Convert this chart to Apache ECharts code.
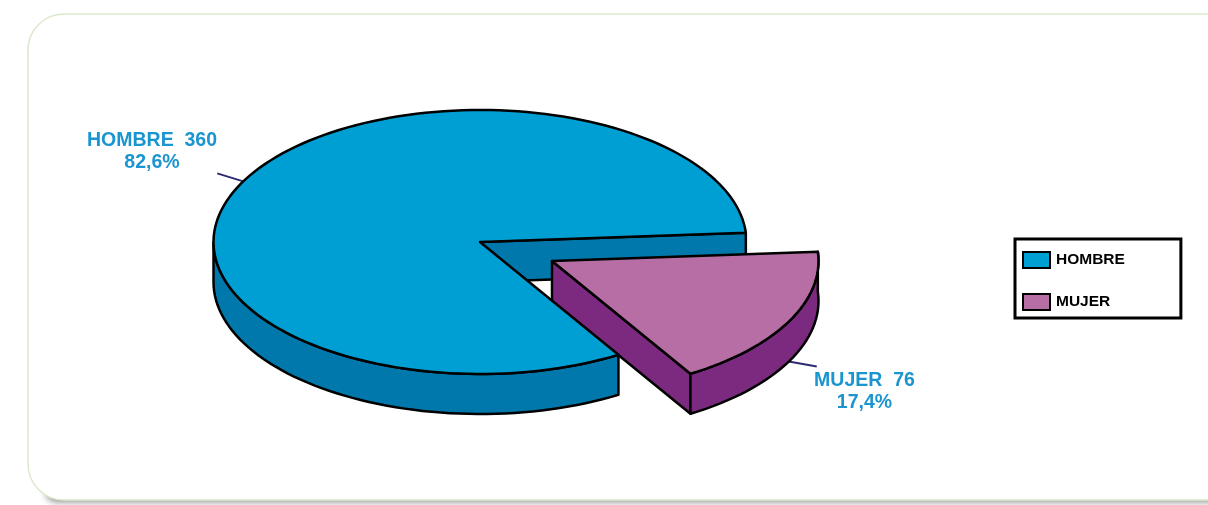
<!DOCTYPE html>
<html><head><meta charset="utf-8">
<style>html,body{margin:0;padding:0;background:#fff}#c{width:1208px;height:505px}</style>
<script src="https://cdn.jsdelivr.net/npm/echarts@6/dist/echarts.min.js"></script>
</head><body><div id="c"></div>
<script>
// --- data ---
const categories = ['HOMBRE', 'MUJER'];
const values = [360, 76];
// --- drawing style ---
const topColors = ['#009FD3', '#B76EA5'];
const wallColors = ['#0078AC', '#7B2A7F'];
const centers = [[480, 242], [552, 261]];
const RX = 266.5, RY = 132, DEPTH = 40, START_DEG = 58.7;
const leaderEnds = [[-26, -8], [28, 5]];
const labelPos = [[152, 141], [864.5, 381]];
const INK = '#000', LW = 2.5;

const total = values.reduce((a, b) => a + b, 0);
const spans = values.map(v => v / total * 360);
const starts = spans.map((_, i) => START_DEG + spans.slice(0, i).reduce((a, b) => a + b, 0));

function rim(c, deg, dy) {
  const t = deg * Math.PI / 180;
  return [c[0] + RX * Math.cos(t), c[1] + RY * Math.sin(t) + (dy || 0)];
}
function arc(c, a0, a1, dy) {
  const n = Math.max(2, Math.ceil(Math.abs(a1 - a0) / 2)), out = [];
  for (let i = 0; i <= n; i++) out.push(rim(c, a0 + (a1 - a0) * i / n, dy));
  return out;
}
function renderSlice(i) {
  const c = centers[i], a0 = starts[i], a1 = a0 + spans[i], mid = (a0 + a1) / 2;
  const kids = [];
  const poly = (pts, fill, z) => kids.push({
    type: 'polygon', z2: z, shape: { points: pts },
    style: { fill, stroke: INK, lineWidth: LW, lineJoin: 'round' }
  });
  const low = [c[0], c[1] + DEPTH];
  // straight cut face turned to the viewer
  poly([c, rim(c, a1), rim(c, a1, DEPTH), low], wallColors[i], 1);
  // curved outer wall: front half of the ellipse only
  const w1 = i === 0 ? Math.min(a1, 180) : a1;
  poly(arc(c, a0, w1, 0).concat(arc(c, w1, a0, DEPTH)), wallColors[i], 2);
  // top face
  poly([c].concat(arc(c, a0, a1, 0)), topColors[i], 3);
  // leader and label
  const from = rim(c, mid, i === 0 ? 0 : DEPTH);
  kids.push({
    type: 'polyline', z2: 0,
    shape: { points: [from, [from[0] + leaderEnds[i][0], from[1] + leaderEnds[i][1]]] },
    style: { stroke: '#2B2A72', lineWidth: 2, fill: null }
  });
  const pct = (values[i] / total * 100).toFixed(1).replace('.', ',') + '%';
  [categories[i] + '  ' + values[i], pct].forEach((t, k) => kids.push({
    type: 'text', z2: 5,
    style: {
      text: t, x: labelPos[i][0], y: labelPos[i][1] + k * 22,
      fill: '#1B95D0', font: 'bold 19.5px "Liberation Sans"',
      align: 'center', verticalAlign: 'middle'
    }
  }));
  return { type: 'group', children: kids };
}

const chart = echarts.init(document.getElementById('c'), null, { renderer: 'canvas' });
chart.setOption({
  animation: false,
  graphic: [{
    type: 'rect', z: -11, silent: true,
    shape: { x: 46, y: 40, width: 1320, height: 459, r: 10 },
    style: { fill: '#fff', shadowColor: 'rgba(0,0,0,0.45)', shadowBlur: 7, shadowOffsetY: 3 }
  }, {
    type: 'rect', z: -10, silent: true,
    shape: { x: 28, y: 14, width: 1320, height: 486, r: 36 },
    style: { fill: '#fff', stroke: '#DCE9CC', lineWidth: 1.5 }
  }],
  legend: {
    orient: 'vertical', left: 1015, top: 239, padding: [12, 56, 7, 7], itemGap: 24,
    itemWidth: 27, itemHeight: 16, itemStyle: { borderColor: '#000', borderWidth: 2 },
    backgroundColor: '#fff', borderColor: '#000', borderWidth: 3,
    selectedMode: false, icon: 'rect',
    data: categories,
    textStyle: { color: '#000', fontFamily: 'Liberation Sans', fontWeight: 'bold', fontSize: 15.5, padding: [0, 0, 0, 1] }
  },
  series: categories.map((name, i) => ({
    type: 'custom', name, coordinateSystem: 'none', silent: true,
    itemStyle: { color: topColors[i] },
    data: [values[i]],
    renderItem: () => renderSlice(i)
  }))
});
</script></body></html>
